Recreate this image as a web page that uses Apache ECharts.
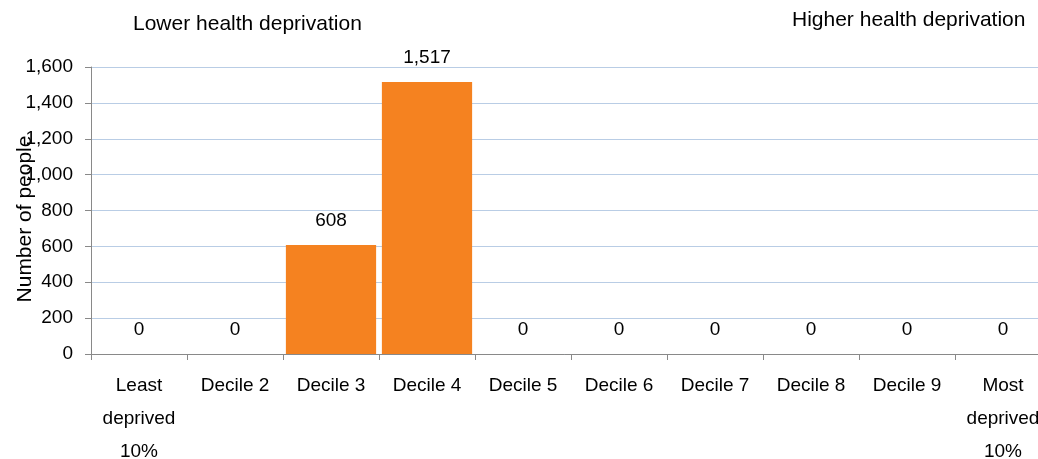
<!DOCTYPE html>
<html>
<head>
<meta charset="utf-8">
<script src="https://cdn.jsdelivr.net/npm/echarts@6/dist/echarts.min.js"></script>
<style>
html, body { margin: 0; padding: 0; background: #fff; }
#chart { width: 1038px; height: 459px; }
</style>
</head>
<body>
<div id="chart"></div>
<script>
const categories = ['Least\ndeprived\n10%', 'Decile 2', 'Decile 3', 'Decile 4', 'Decile 5',
    'Decile 6', 'Decile 7', 'Decile 8', 'Decile 9', 'Most\ndeprived\n10%'];
const people = [0, 0, 608, 1517, 0, 0, 0, 0, 0, 0];
const yTicks = { min: 0, max: 1600, interval: 200 };

const font = 'Liberation Sans, Arial, sans-serif';
let chart = echarts.init(document.getElementById('chart'));
chart.setOption({
    animation: false,
    textStyle: { fontFamily: font },
    grid: { left: 91, top: 67, width: 960, height: 287, containLabel: false, outerBoundsMode: 'none' },
    graphic: [
        { type: 'text', left: 133, top: 14, style: { text: 'Lower health deprivation', fontSize: 21, fill: '#000', fontFamily: font } },
        { type: 'text', left: 792, top: 10, style: { text: 'Higher health deprivation', fontSize: 21, fill: '#000', fontFamily: font } },
        // y axis title, drawn over the tick labels like the original
        { type: 'text', x: 25, y: 219, rotation: Math.PI / 2,
          style: { text: 'Number of people', fontSize: 21, fill: '#000', fontFamily: font, align: 'center', verticalAlign: 'middle' } }
    ],
    xAxis: {
        type: 'category',
        data: categories,
        axisLine: { lineStyle: { color: '#898989' } },
        axisTick: { show: true, length: 6, lineStyle: { color: '#898989' } },
        axisLabel: { interval: 0, color: '#000', fontSize: 19, lineHeight: 33, margin: 15, fontFamily: font }
    },
    yAxis: {
        type: 'value',
        min: yTicks.min,
        max: yTicks.max,
        interval: yTicks.interval,
        axisLine: { show: true, lineStyle: { color: '#898989' } },
        axisTick: { show: true, length: 6, lineStyle: { color: '#898989' } },
        axisLabel: {
            color: '#000', fontSize: 19, margin: 18, fontFamily: font,
            formatter: v => v.toLocaleString('en-US')
        },
        splitLine: { lineStyle: { color: '#B9CDE5' } }
    },
    series: [{
        type: 'bar',
        data: people,
        barCategoryGap: '6%',
        itemStyle: { color: '#F58220' },
        label: {
            show: true,
            position: 'top',
            distance: 15,
            color: '#000',
            fontSize: 19,
            fontFamily: font,
            formatter: p => p.value.toLocaleString('en-US')
        }
    }]
});
</script>
</body>
</html>
